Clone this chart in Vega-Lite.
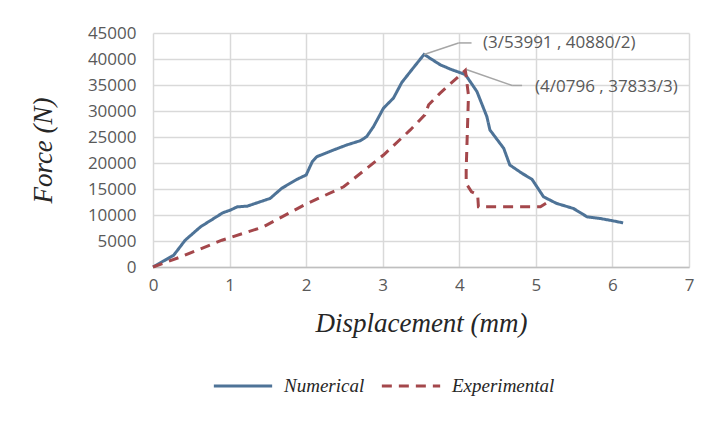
{
  "$schema": "https://vega.github.io/schema/vega-lite/v6.json",
  "width": 536,
  "height": 234,
  "autosize": "none",
  "padding": {"left": 153, "top": 33, "right": 19, "bottom": 156},
  "background": "white",
  "config": {
    "view": {"stroke": null},
    "axis": {
      "labelFont": "Open Sans",
      "labelFontSize": 17,
      "labelColor": "#595959",
      "labelOverlap": false,
      "labelFlush": false,
      "titleFont": "Liberation Serif",
      "titleFontStyle": "italic",
      "titleFontWeight": "normal",
      "titleFontSize": 27,
      "titleColor": "#262626",
      "gridColor": "#d9d9d9",
      "gridWidth": 1.5,
      "ticks": false,
      "domain": false
    },
    "legend": {
      "labelFont": "Liberation Serif",
      "labelFontStyle": "italic",
      "labelFontSize": 19,
      "labelColor": "#262626",
      "symbolStrokeWidth": 3,
      "symbolType": "stroke",
      "symbolSize": 3400,
      "labelOffset": 10,
      "columnPadding": 10
    }
  },
  "datasets": {
    "curves": [
      {"series": "Numerical", "i": 0, "d": 0, "f": 0},
      {"series": "Numerical", "i": 1, "d": 0.27, "f": 2260},
      {"series": "Numerical", "i": 2, "d": 0.42, "f": 5150},
      {"series": "Numerical", "i": 3, "d": 0.62, "f": 7720},
      {"series": "Numerical", "i": 4, "d": 0.91, "f": 10410},
      {"series": "Numerical", "i": 5, "d": 1.01, "f": 10940},
      {"series": "Numerical", "i": 6, "d": 1.10, "f": 11570},
      {"series": "Numerical", "i": 7, "d": 1.23, "f": 11700},
      {"series": "Numerical", "i": 8, "d": 1.53, "f": 13190},
      {"series": "Numerical", "i": 9, "d": 1.68, "f": 15120},
      {"series": "Numerical", "i": 10, "d": 1.88, "f": 16860},
      {"series": "Numerical", "i": 11, "d": 2.0, "f": 17690},
      {"series": "Numerical", "i": 12, "d": 2.08, "f": 20250},
      {"series": "Numerical", "i": 13, "d": 2.14, "f": 21220},
      {"series": "Numerical", "i": 14, "d": 2.36, "f": 22510},
      {"series": "Numerical", "i": 15, "d": 2.53, "f": 23470},
      {"series": "Numerical", "i": 16, "d": 2.71, "f": 24300},
      {"series": "Numerical", "i": 17, "d": 2.79, "f": 25070},
      {"series": "Numerical", "i": 18, "d": 2.88, "f": 27000},
      {"series": "Numerical", "i": 19, "d": 3.01, "f": 30540},
      {"series": "Numerical", "i": 20, "d": 3.14, "f": 32480},
      {"series": "Numerical", "i": 21, "d": 3.25, "f": 35500},
      {"series": "Numerical", "i": 22, "d": 3.38, "f": 37940},
      {"series": "Numerical", "i": 23, "d": 3.54, "f": 40880},
      {"series": "Numerical", "i": 24, "d": 3.75, "f": 38900},
      {"series": "Numerical", "i": 25, "d": 3.88, "f": 38070},
      {"series": "Numerical", "i": 26, "d": 4.08, "f": 37000},
      {"series": "Numerical", "i": 27, "d": 4.23, "f": 33750},
      {"series": "Numerical", "i": 28, "d": 4.36, "f": 28930},
      {"series": "Numerical", "i": 29, "d": 4.40, "f": 26360},
      {"series": "Numerical", "i": 30, "d": 4.58, "f": 22830},
      {"series": "Numerical", "i": 31, "d": 4.66, "f": 19610},
      {"series": "Numerical", "i": 32, "d": 4.82, "f": 18010},
      {"series": "Numerical", "i": 33, "d": 4.95, "f": 16860},
      {"series": "Numerical", "i": 34, "d": 5.10, "f": 13500},
      {"series": "Numerical", "i": 35, "d": 5.27, "f": 12230},
      {"series": "Numerical", "i": 36, "d": 5.49, "f": 11260},
      {"series": "Numerical", "i": 37, "d": 5.67, "f": 9640},
      {"series": "Numerical", "i": 38, "d": 5.84, "f": 9330},
      {"series": "Numerical", "i": 39, "d": 6.01, "f": 8870},
      {"series": "Numerical", "i": 40, "d": 6.14, "f": 8490},
      {"series": "Experimental", "i": 0, "d": 0, "f": 0},
      {"series": "Experimental", "i": 1, "d": 0.36, "f": 1930},
      {"series": "Experimental", "i": 2, "d": 0.90, "f": 5150},
      {"series": "Experimental", "i": 3, "d": 1.44, "f": 7710},
      {"series": "Experimental", "i": 4, "d": 1.97, "f": 11900},
      {"series": "Experimental", "i": 5, "d": 2.49, "f": 15430},
      {"series": "Experimental", "i": 6, "d": 3.01, "f": 21540},
      {"series": "Experimental", "i": 7, "d": 3.36, "f": 26360},
      {"series": "Experimental", "i": 8, "d": 3.55, "f": 29250},
      {"series": "Experimental", "i": 9, "d": 3.60, "f": 31190},
      {"series": "Experimental", "i": 10, "d": 3.75, "f": 33440},
      {"series": "Experimental", "i": 11, "d": 4.0796, "f": 37833},
      {"series": "Experimental", "i": 12, "d": 4.12, "f": 33000},
      {"series": "Experimental", "i": 13, "d": 4.09, "f": 18650},
      {"series": "Experimental", "i": 14, "d": 4.09, "f": 16080},
      {"series": "Experimental", "i": 15, "d": 4.16, "f": 14460},
      {"series": "Experimental", "i": 16, "d": 4.24, "f": 13900},
      {"series": "Experimental", "i": 17, "d": 4.25, "f": 11570},
      {"series": "Experimental", "i": 18, "d": 5.06, "f": 11570},
      {"series": "Experimental", "i": 19, "d": 5.16, "f": 12540}
    ],
    "leaders": [
      {"d": 3.54, "f": 40880, "d2": 3.99, "f2": 43090},
      {"d": 3.99, "f": 43090, "d2": 4.16, "f2": 43090},
      {"d": 4.10, "f": 37940, "d2": 4.69, "f2": 34910},
      {"d": 4.69, "f": 34910, "d2": 4.82, "f2": 34910}
    ],
    "labels": [
      {"d": 4.31, "f": 43000, "text": "(3/53991 , 40880/2)"},
      {"d": 4.99, "f": 34700, "text": "(4/0796 , 37833/3)"}
    ]
  },
  "encoding": {
    "x": {
      "field": "d", "type": "quantitative",
      "scale": {"domain": [0, 7], "nice": false},
      "axis": {"title": "Displacement (mm)", "values": [0,1,2,3,4,5,6,7], "labelExpr": "'' + datum.value", "labelPadding": 10, "titlePadding": 17, "domain": true, "domainColor": "#bfbfbf", "domainWidth": 1.5}
    },
    "y": {
      "field": "f", "type": "quantitative",
      "scale": {"domain": [0, 45000], "nice": false},
      "axis": {"title": "Force (N)", "values": [0,5000,10000,15000,20000,25000,30000,35000,40000,45000], "labelExpr": "'' + datum.value", "labelPadding": 17, "titlePadding": 30}
    }
  },
  "layer": [
    {
      "data": {"name": "curves"},
      "mark": {"type": "line", "strokeWidth": 3, "interpolate": "linear"},
      "encoding": {
        "order": {"field": "i", "type": "quantitative"},
        "color": {
          "field": "series", "type": "nominal",
          "scale": {"domain": ["Numerical", "Experimental"], "range": ["#4e7397", "#a4474b"]},
          "legend": {"title": null, "orient": "none", "direction": "horizontal", "legendX": 59, "legendY": 322}
        },
        "strokeDash": {
          "field": "series", "type": "nominal",
          "scale": {"domain": ["Numerical", "Experimental"], "range": [[1, 0], [10, 7]]},
          "legend": {"title": null, "orient": "none", "direction": "horizontal", "legendX": 59, "legendY": 322}
        }
      }
    },
    {
      "data": {"name": "leaders"},
      "mark": {"type": "rule", "color": "#a6a6a6", "strokeWidth": 1.5},
      "encoding": {
        "x2": {"field": "d2"},
        "y2": {"field": "f2"}
      }
    },
    {
      "data": {"name": "labels"},
      "mark": {"type": "text", "align": "left", "baseline": "middle", "font": "Open Sans", "fontSize": 17, "color": "#595959"},
      "encoding": {
        "text": {"field": "text"}
      }
    }
  ]
}
